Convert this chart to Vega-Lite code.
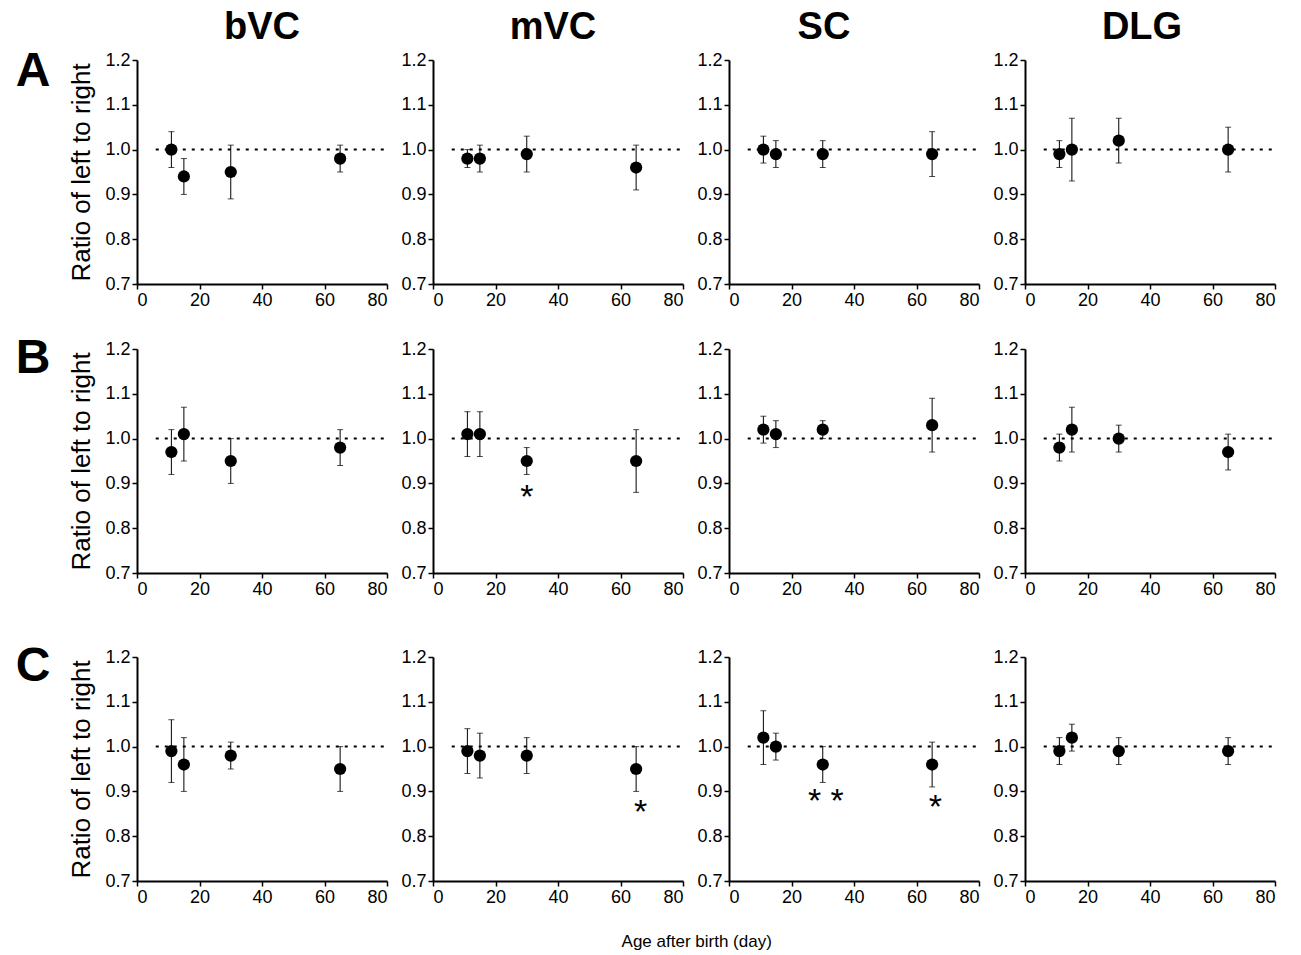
{
  "$schema": "https://vega.github.io/schema/vega-lite/v6.json",
  "background": "white",
  "padding": {"left": 15, "top": 9, "right": 5, "bottom": 0},
  "title": {"text": "Age after birth  (day)", "orient": "bottom", "anchor": "middle", "fontSize": 17, "fontWeight": "normal", "offset": 28, "dx": 51, "color": "black", "font": "Liberation Sans"},
  "config": {
    "view": {"stroke": null},
    "font": "Liberation Sans",
    "title": {"fontSize": 38, "fontWeight": "bold", "color": "black", "font": "Liberation Sans", "offset": 4},
    "axis": {"domainColor": "black", "domainWidth": 2, "tickColor": "black", "tickWidth": 1.5, "tickSize": 5, "labelColor": "black", "labelFontSize": 18, "labelFont": "Liberation Sans", "grid": false, "titleFontSize": 26, "titleFontWeight": "normal", "titleColor": "black", "titleFont": "Liberation Sans", "labelPadding": 2, "titlePadding": 10}
  },
  "datasets": {
    "d": [
      {"g": "A-bVC", "age": 11, "ratio": 1.00, "lo": 0.96, "hi": 1.04},
      {"g": "A-bVC", "age": 15, "ratio": 0.94, "lo": 0.90, "hi": 0.98},
      {"g": "A-bVC", "age": 30, "ratio": 0.95, "lo": 0.89, "hi": 1.01},
      {"g": "A-bVC", "age": 65, "ratio": 0.98, "lo": 0.95, "hi": 1.01},
      {"g": "A-mVC", "age": 11, "ratio": 0.98, "lo": 0.96, "hi": 1.00},
      {"g": "A-mVC", "age": 15, "ratio": 0.98, "lo": 0.95, "hi": 1.01},
      {"g": "A-mVC", "age": 30, "ratio": 0.99, "lo": 0.95, "hi": 1.03},
      {"g": "A-mVC", "age": 65, "ratio": 0.96, "lo": 0.91, "hi": 1.01},
      {"g": "A-SC", "age": 11, "ratio": 1.00, "lo": 0.97, "hi": 1.03},
      {"g": "A-SC", "age": 15, "ratio": 0.99, "lo": 0.96, "hi": 1.02},
      {"g": "A-SC", "age": 30, "ratio": 0.99, "lo": 0.96, "hi": 1.02},
      {"g": "A-SC", "age": 65, "ratio": 0.99, "lo": 0.94, "hi": 1.04},
      {"g": "A-DLG", "age": 11, "ratio": 0.99, "lo": 0.96, "hi": 1.02},
      {"g": "A-DLG", "age": 15, "ratio": 1.00, "lo": 0.93, "hi": 1.07},
      {"g": "A-DLG", "age": 30, "ratio": 1.02, "lo": 0.97, "hi": 1.07},
      {"g": "A-DLG", "age": 65, "ratio": 1.00, "lo": 0.95, "hi": 1.05},
      {"g": "B-bVC", "age": 11, "ratio": 0.97, "lo": 0.92, "hi": 1.02},
      {"g": "B-bVC", "age": 15, "ratio": 1.01, "lo": 0.95, "hi": 1.07},
      {"g": "B-bVC", "age": 30, "ratio": 0.95, "lo": 0.90, "hi": 1.00},
      {"g": "B-bVC", "age": 65, "ratio": 0.98, "lo": 0.94, "hi": 1.02},
      {"g": "B-mVC", "age": 11, "ratio": 1.01, "lo": 0.96, "hi": 1.06},
      {"g": "B-mVC", "age": 15, "ratio": 1.01, "lo": 0.96, "hi": 1.06},
      {"g": "B-mVC", "age": 30, "ratio": 0.95, "lo": 0.92, "hi": 0.98, "star": "*", "sx": 30, "sy": 0.885},
      {"g": "B-mVC", "age": 65, "ratio": 0.95, "lo": 0.88, "hi": 1.02},
      {"g": "B-SC", "age": 11, "ratio": 1.02, "lo": 0.99, "hi": 1.05},
      {"g": "B-SC", "age": 15, "ratio": 1.01, "lo": 0.98, "hi": 1.04},
      {"g": "B-SC", "age": 30, "ratio": 1.02, "lo": 1.00, "hi": 1.04},
      {"g": "B-SC", "age": 65, "ratio": 1.03, "lo": 0.97, "hi": 1.09},
      {"g": "B-DLG", "age": 11, "ratio": 0.98, "lo": 0.95, "hi": 1.01},
      {"g": "B-DLG", "age": 15, "ratio": 1.02, "lo": 0.97, "hi": 1.07},
      {"g": "B-DLG", "age": 30, "ratio": 1.00, "lo": 0.97, "hi": 1.03},
      {"g": "B-DLG", "age": 65, "ratio": 0.97, "lo": 0.93, "hi": 1.01},
      {"g": "C-bVC", "age": 11, "ratio": 0.99, "lo": 0.92, "hi": 1.06},
      {"g": "C-bVC", "age": 15, "ratio": 0.96, "lo": 0.90, "hi": 1.02},
      {"g": "C-bVC", "age": 30, "ratio": 0.98, "lo": 0.95, "hi": 1.01},
      {"g": "C-bVC", "age": 65, "ratio": 0.95, "lo": 0.90, "hi": 1.00},
      {"g": "C-mVC", "age": 11, "ratio": 0.99, "lo": 0.94, "hi": 1.04},
      {"g": "C-mVC", "age": 15, "ratio": 0.98, "lo": 0.93, "hi": 1.03},
      {"g": "C-mVC", "age": 30, "ratio": 0.98, "lo": 0.94, "hi": 1.02},
      {"g": "C-mVC", "age": 65, "ratio": 0.95, "lo": 0.90, "hi": 1.00, "star": "*", "sx": 66.4, "sy": 0.87},
      {"g": "C-SC", "age": 11, "ratio": 1.02, "lo": 0.96, "hi": 1.08},
      {"g": "C-SC", "age": 15, "ratio": 1.00, "lo": 0.97, "hi": 1.03},
      {"g": "C-SC", "age": 30, "ratio": 0.96, "lo": 0.92, "hi": 1.00, "star": "* *", "sx": 31, "sy": 0.895},
      {"g": "C-SC", "age": 65, "ratio": 0.96, "lo": 0.91, "hi": 1.01, "star": "*", "sx": 66, "sy": 0.88},
      {"g": "C-DLG", "age": 11, "ratio": 0.99, "lo": 0.96, "hi": 1.02},
      {"g": "C-DLG", "age": 15, "ratio": 1.02, "lo": 0.99, "hi": 1.05},
      {"g": "C-DLG", "age": 30, "ratio": 0.99, "lo": 0.96, "hi": 1.02},
      {"g": "C-DLG", "age": 65, "ratio": 0.99, "lo": 0.96, "hi": 1.02}
    ]
  },
  "spacing": 45,
  "vconcat": [
    {
      "spacing": 26,
      "vconcat": [
        {
          "spacing": 46,
          "bounds": "flush",
          "title": {"text": "A", "orient": "left", "angle": 0, "anchor": "end", "align": "right", "baseline": "top", "fontSize": 48, "fontWeight": "bold", "offset": -16, "dy": 39},
          "hconcat": [
            {"width": 250, "height": 224, "title": {"text": "bVC", "dx": 0}, "data": {"name": "d"}, "transform": [{"filter": "datum.g == 'A-bVC'"}],
              "layer": [
                {"data": {"values": [{}]}, "mark": {"type": "rule", "strokeDash": [3, 6], "strokeWidth": 2, "color": "black"}, "encoding": {"x": {"datum": 6, "type": "quantitative"}, "x2": {"datum": 79}, "y": {"datum": 1, "type": "quantitative"}}},
                {"mark": {"type": "errorbar", "color": "black", "ticks": {"size": 6}, "rule": {"strokeWidth": 1}}, "encoding": {"x": {"field": "age", "type": "quantitative", "title": null}, "y": {"field": "lo", "type": "quantitative", "title": "Ratio of left to right"}, "y2": {"field": "hi"}}},
                {"mark": {"type": "circle", "size": 150, "color": "black", "opacity": 1}, "encoding": {"x": {"field": "age", "type": "quantitative", "scale": {"domain": [0, 80], "nice": false}, "title": null, "axis": {"values": [0, 10, 20, 30, 40, 50, 60, 70, 80], "labelExpr": "datum.value % 20 == 0 ? datum.label : ''"}}, "y": {"field": "ratio", "type": "quantitative", "scale": {"domain": [0.7, 1.2], "nice": false, "zero": false}, "title": "Ratio of left to right", "axis": {"values": [0.7, 0.8, 0.9, 1.0, 1.1, 1.2], "format": ".1f"}}}},
                {"transform": [{"filter": "datum.star"}], "mark": {"type": "text", "fontSize": 34, "baseline": "middle", "dy": 8, "color": "black"}, "encoding": {"x": {"field": "sx", "type": "quantitative", "title": null}, "y": {"field": "sy", "type": "quantitative", "title": "Ratio of left to right"}, "text": {"field": "star"}}}
              ]
            },
            {"width": 250, "height": 224, "title": {"text": "mVC", "dx": -5}, "data": {"name": "d"}, "transform": [{"filter": "datum.g == 'A-mVC'"}],
              "layer": [
                {"data": {"values": [{}]}, "mark": {"type": "rule", "strokeDash": [3, 6], "strokeWidth": 2, "color": "black"}, "encoding": {"x": {"datum": 6, "type": "quantitative"}, "x2": {"datum": 79}, "y": {"datum": 1, "type": "quantitative"}}},
                {"mark": {"type": "errorbar", "color": "black", "ticks": {"size": 6}, "rule": {"strokeWidth": 1}}, "encoding": {"x": {"field": "age", "type": "quantitative", "title": null}, "y": {"field": "lo", "type": "quantitative", "title": null}, "y2": {"field": "hi"}}},
                {"mark": {"type": "circle", "size": 150, "color": "black", "opacity": 1}, "encoding": {"x": {"field": "age", "type": "quantitative", "scale": {"domain": [0, 80], "nice": false}, "title": null, "axis": {"values": [0, 10, 20, 30, 40, 50, 60, 70, 80], "labelExpr": "datum.value % 20 == 0 ? datum.label : ''"}}, "y": {"field": "ratio", "type": "quantitative", "scale": {"domain": [0.7, 1.2], "nice": false, "zero": false}, "title": null, "axis": {"values": [0.7, 0.8, 0.9, 1.0, 1.1, 1.2], "format": ".1f"}}}},
                {"transform": [{"filter": "datum.star"}], "mark": {"type": "text", "fontSize": 34, "baseline": "middle", "dy": 8, "color": "black"}, "encoding": {"x": {"field": "sx", "type": "quantitative", "title": null}, "y": {"field": "sy", "type": "quantitative", "title": null}, "text": {"field": "star"}}}
              ]
            },
            {"width": 250, "height": 224, "title": {"text": "SC", "dx": -30}, "data": {"name": "d"}, "transform": [{"filter": "datum.g == 'A-SC'"}],
              "layer": [
                {"data": {"values": [{}]}, "mark": {"type": "rule", "strokeDash": [3, 6], "strokeWidth": 2, "color": "black"}, "encoding": {"x": {"datum": 6, "type": "quantitative"}, "x2": {"datum": 79}, "y": {"datum": 1, "type": "quantitative"}}},
                {"mark": {"type": "errorbar", "color": "black", "ticks": {"size": 6}, "rule": {"strokeWidth": 1}}, "encoding": {"x": {"field": "age", "type": "quantitative", "title": null}, "y": {"field": "lo", "type": "quantitative", "title": null}, "y2": {"field": "hi"}}},
                {"mark": {"type": "circle", "size": 150, "color": "black", "opacity": 1}, "encoding": {"x": {"field": "age", "type": "quantitative", "scale": {"domain": [0, 80], "nice": false}, "title": null, "axis": {"values": [0, 10, 20, 30, 40, 50, 60, 70, 80], "labelExpr": "datum.value % 20 == 0 ? datum.label : ''"}}, "y": {"field": "ratio", "type": "quantitative", "scale": {"domain": [0.7, 1.2], "nice": false, "zero": false}, "title": null, "axis": {"values": [0.7, 0.8, 0.9, 1.0, 1.1, 1.2], "format": ".1f"}}}},
                {"transform": [{"filter": "datum.star"}], "mark": {"type": "text", "fontSize": 34, "baseline": "middle", "dy": 8, "color": "black"}, "encoding": {"x": {"field": "sx", "type": "quantitative", "title": null}, "y": {"field": "sy", "type": "quantitative", "title": null}, "text": {"field": "star"}}}
              ]
            },
            {"width": 250, "height": 224, "title": {"text": "DLG", "dx": -8}, "data": {"name": "d"}, "transform": [{"filter": "datum.g == 'A-DLG'"}],
              "layer": [
                {"data": {"values": [{}]}, "mark": {"type": "rule", "strokeDash": [3, 6], "strokeWidth": 2, "color": "black"}, "encoding": {"x": {"datum": 6, "type": "quantitative"}, "x2": {"datum": 79}, "y": {"datum": 1, "type": "quantitative"}}},
                {"mark": {"type": "errorbar", "color": "black", "ticks": {"size": 6}, "rule": {"strokeWidth": 1}}, "encoding": {"x": {"field": "age", "type": "quantitative", "title": null}, "y": {"field": "lo", "type": "quantitative", "title": null}, "y2": {"field": "hi"}}},
                {"mark": {"type": "circle", "size": 150, "color": "black", "opacity": 1}, "encoding": {"x": {"field": "age", "type": "quantitative", "scale": {"domain": [0, 80], "nice": false}, "title": null, "axis": {"values": [0, 10, 20, 30, 40, 50, 60, 70, 80], "labelExpr": "datum.value % 20 == 0 ? datum.label : ''"}}, "y": {"field": "ratio", "type": "quantitative", "scale": {"domain": [0.7, 1.2], "nice": false, "zero": false}, "title": null, "axis": {"values": [0.7, 0.8, 0.9, 1.0, 1.1, 1.2], "format": ".1f"}}}},
                {"transform": [{"filter": "datum.star"}], "mark": {"type": "text", "fontSize": 34, "baseline": "middle", "dy": 8, "color": "black"}, "encoding": {"x": {"field": "sx", "type": "quantitative", "title": null}, "y": {"field": "sy", "type": "quantitative", "title": null}, "text": {"field": "star"}}}
              ]
            }
          ]
        },
        {
          "spacing": 46,
          "bounds": "flush",
          "title": {"text": "B", "orient": "left", "angle": 0, "anchor": "end", "align": "right", "baseline": "top", "fontSize": 48, "fontWeight": "bold", "offset": -16, "dy": -5},
          "hconcat": [
            {"width": 250, "height": 224, "data": {"name": "d"}, "transform": [{"filter": "datum.g == 'B-bVC'"}],
              "layer": [
                {"data": {"values": [{}]}, "mark": {"type": "rule", "strokeDash": [3, 6], "strokeWidth": 2, "color": "black"}, "encoding": {"x": {"datum": 6, "type": "quantitative"}, "x2": {"datum": 79}, "y": {"datum": 1, "type": "quantitative"}}},
                {"mark": {"type": "errorbar", "color": "black", "ticks": {"size": 6}, "rule": {"strokeWidth": 1}}, "encoding": {"x": {"field": "age", "type": "quantitative", "title": null}, "y": {"field": "lo", "type": "quantitative", "title": "Ratio of left to right"}, "y2": {"field": "hi"}}},
                {"mark": {"type": "circle", "size": 150, "color": "black", "opacity": 1}, "encoding": {"x": {"field": "age", "type": "quantitative", "scale": {"domain": [0, 80], "nice": false}, "title": null, "axis": {"values": [0, 10, 20, 30, 40, 50, 60, 70, 80], "labelExpr": "datum.value % 20 == 0 ? datum.label : ''"}}, "y": {"field": "ratio", "type": "quantitative", "scale": {"domain": [0.7, 1.2], "nice": false, "zero": false}, "title": "Ratio of left to right", "axis": {"values": [0.7, 0.8, 0.9, 1.0, 1.1, 1.2], "format": ".1f"}}}},
                {"transform": [{"filter": "datum.star"}], "mark": {"type": "text", "fontSize": 34, "baseline": "middle", "dy": 8, "color": "black"}, "encoding": {"x": {"field": "sx", "type": "quantitative", "title": null}, "y": {"field": "sy", "type": "quantitative", "title": "Ratio of left to right"}, "text": {"field": "star"}}}
              ]
            },
            {"width": 250, "height": 224, "data": {"name": "d"}, "transform": [{"filter": "datum.g == 'B-mVC'"}],
              "layer": [
                {"data": {"values": [{}]}, "mark": {"type": "rule", "strokeDash": [3, 6], "strokeWidth": 2, "color": "black"}, "encoding": {"x": {"datum": 6, "type": "quantitative"}, "x2": {"datum": 79}, "y": {"datum": 1, "type": "quantitative"}}},
                {"mark": {"type": "errorbar", "color": "black", "ticks": {"size": 6}, "rule": {"strokeWidth": 1}}, "encoding": {"x": {"field": "age", "type": "quantitative", "title": null}, "y": {"field": "lo", "type": "quantitative", "title": null}, "y2": {"field": "hi"}}},
                {"mark": {"type": "circle", "size": 150, "color": "black", "opacity": 1}, "encoding": {"x": {"field": "age", "type": "quantitative", "scale": {"domain": [0, 80], "nice": false}, "title": null, "axis": {"values": [0, 10, 20, 30, 40, 50, 60, 70, 80], "labelExpr": "datum.value % 20 == 0 ? datum.label : ''"}}, "y": {"field": "ratio", "type": "quantitative", "scale": {"domain": [0.7, 1.2], "nice": false, "zero": false}, "title": null, "axis": {"values": [0.7, 0.8, 0.9, 1.0, 1.1, 1.2], "format": ".1f"}}}},
                {"transform": [{"filter": "datum.star"}], "mark": {"type": "text", "fontSize": 34, "baseline": "middle", "dy": 8, "color": "black"}, "encoding": {"x": {"field": "sx", "type": "quantitative", "title": null}, "y": {"field": "sy", "type": "quantitative", "title": null}, "text": {"field": "star"}}}
              ]
            },
            {"width": 250, "height": 224, "data": {"name": "d"}, "transform": [{"filter": "datum.g == 'B-SC'"}],
              "layer": [
                {"data": {"values": [{}]}, "mark": {"type": "rule", "strokeDash": [3, 6], "strokeWidth": 2, "color": "black"}, "encoding": {"x": {"datum": 6, "type": "quantitative"}, "x2": {"datum": 79}, "y": {"datum": 1, "type": "quantitative"}}},
                {"mark": {"type": "errorbar", "color": "black", "ticks": {"size": 6}, "rule": {"strokeWidth": 1}}, "encoding": {"x": {"field": "age", "type": "quantitative", "title": null}, "y": {"field": "lo", "type": "quantitative", "title": null}, "y2": {"field": "hi"}}},
                {"mark": {"type": "circle", "size": 150, "color": "black", "opacity": 1}, "encoding": {"x": {"field": "age", "type": "quantitative", "scale": {"domain": [0, 80], "nice": false}, "title": null, "axis": {"values": [0, 10, 20, 30, 40, 50, 60, 70, 80], "labelExpr": "datum.value % 20 == 0 ? datum.label : ''"}}, "y": {"field": "ratio", "type": "quantitative", "scale": {"domain": [0.7, 1.2], "nice": false, "zero": false}, "title": null, "axis": {"values": [0.7, 0.8, 0.9, 1.0, 1.1, 1.2], "format": ".1f"}}}},
                {"transform": [{"filter": "datum.star"}], "mark": {"type": "text", "fontSize": 34, "baseline": "middle", "dy": 8, "color": "black"}, "encoding": {"x": {"field": "sx", "type": "quantitative", "title": null}, "y": {"field": "sy", "type": "quantitative", "title": null}, "text": {"field": "star"}}}
              ]
            },
            {"width": 250, "height": 224, "data": {"name": "d"}, "transform": [{"filter": "datum.g == 'B-DLG'"}],
              "layer": [
                {"data": {"values": [{}]}, "mark": {"type": "rule", "strokeDash": [3, 6], "strokeWidth": 2, "color": "black"}, "encoding": {"x": {"datum": 6, "type": "quantitative"}, "x2": {"datum": 79}, "y": {"datum": 1, "type": "quantitative"}}},
                {"mark": {"type": "errorbar", "color": "black", "ticks": {"size": 6}, "rule": {"strokeWidth": 1}}, "encoding": {"x": {"field": "age", "type": "quantitative", "title": null}, "y": {"field": "lo", "type": "quantitative", "title": null}, "y2": {"field": "hi"}}},
                {"mark": {"type": "circle", "size": 150, "color": "black", "opacity": 1}, "encoding": {"x": {"field": "age", "type": "quantitative", "scale": {"domain": [0, 80], "nice": false}, "title": null, "axis": {"values": [0, 10, 20, 30, 40, 50, 60, 70, 80], "labelExpr": "datum.value % 20 == 0 ? datum.label : ''"}}, "y": {"field": "ratio", "type": "quantitative", "scale": {"domain": [0.7, 1.2], "nice": false, "zero": false}, "title": null, "axis": {"values": [0.7, 0.8, 0.9, 1.0, 1.1, 1.2], "format": ".1f"}}}},
                {"transform": [{"filter": "datum.star"}], "mark": {"type": "text", "fontSize": 34, "baseline": "middle", "dy": 8, "color": "black"}, "encoding": {"x": {"field": "sx", "type": "quantitative", "title": null}, "y": {"field": "sy", "type": "quantitative", "title": null}, "text": {"field": "star"}}}
              ]
            }
          ]
        }
      ]
    },
    {
      "spacing": 46,
      "bounds": "flush",
      "title": {"text": "C", "orient": "left", "angle": 0, "anchor": "end", "align": "right", "baseline": "top", "fontSize": 48, "fontWeight": "bold", "offset": -16, "dy": -5},
      "hconcat": [
        {"width": 250, "height": 224, "data": {"name": "d"}, "transform": [{"filter": "datum.g == 'C-bVC'"}],
          "layer": [
            {"data": {"values": [{}]}, "mark": {"type": "rule", "strokeDash": [3, 6], "strokeWidth": 2, "color": "black"}, "encoding": {"x": {"datum": 6, "type": "quantitative"}, "x2": {"datum": 79}, "y": {"datum": 1, "type": "quantitative"}}},
            {"mark": {"type": "errorbar", "color": "black", "ticks": {"size": 6}, "rule": {"strokeWidth": 1}}, "encoding": {"x": {"field": "age", "type": "quantitative", "title": null}, "y": {"field": "lo", "type": "quantitative", "title": "Ratio of left to right"}, "y2": {"field": "hi"}}},
            {"mark": {"type": "circle", "size": 150, "color": "black", "opacity": 1}, "encoding": {"x": {"field": "age", "type": "quantitative", "scale": {"domain": [0, 80], "nice": false}, "title": null, "axis": {"values": [0, 10, 20, 30, 40, 50, 60, 70, 80], "labelExpr": "datum.value % 20 == 0 ? datum.label : ''"}}, "y": {"field": "ratio", "type": "quantitative", "scale": {"domain": [0.7, 1.2], "nice": false, "zero": false}, "title": "Ratio of left to right", "axis": {"values": [0.7, 0.8, 0.9, 1.0, 1.1, 1.2], "format": ".1f"}}}},
            {"transform": [{"filter": "datum.star"}], "mark": {"type": "text", "fontSize": 34, "baseline": "middle", "dy": 8, "color": "black"}, "encoding": {"x": {"field": "sx", "type": "quantitative", "title": null}, "y": {"field": "sy", "type": "quantitative", "title": "Ratio of left to right"}, "text": {"field": "star"}}}
          ]
        },
        {"width": 250, "height": 224, "data": {"name": "d"}, "transform": [{"filter": "datum.g == 'C-mVC'"}],
          "layer": [
            {"data": {"values": [{}]}, "mark": {"type": "rule", "strokeDash": [3, 6], "strokeWidth": 2, "color": "black"}, "encoding": {"x": {"datum": 6, "type": "quantitative"}, "x2": {"datum": 79}, "y": {"datum": 1, "type": "quantitative"}}},
            {"mark": {"type": "errorbar", "color": "black", "ticks": {"size": 6}, "rule": {"strokeWidth": 1}}, "encoding": {"x": {"field": "age", "type": "quantitative", "title": null}, "y": {"field": "lo", "type": "quantitative", "title": null}, "y2": {"field": "hi"}}},
            {"mark": {"type": "circle", "size": 150, "color": "black", "opacity": 1}, "encoding": {"x": {"field": "age", "type": "quantitative", "scale": {"domain": [0, 80], "nice": false}, "title": null, "axis": {"values": [0, 10, 20, 30, 40, 50, 60, 70, 80], "labelExpr": "datum.value % 20 == 0 ? datum.label : ''"}}, "y": {"field": "ratio", "type": "quantitative", "scale": {"domain": [0.7, 1.2], "nice": false, "zero": false}, "title": null, "axis": {"values": [0.7, 0.8, 0.9, 1.0, 1.1, 1.2], "format": ".1f"}}}},
            {"transform": [{"filter": "datum.star"}], "mark": {"type": "text", "fontSize": 34, "baseline": "middle", "dy": 8, "color": "black"}, "encoding": {"x": {"field": "sx", "type": "quantitative", "title": null}, "y": {"field": "sy", "type": "quantitative", "title": null}, "text": {"field": "star"}}}
          ]
        },
        {"width": 250, "height": 224, "data": {"name": "d"}, "transform": [{"filter": "datum.g == 'C-SC'"}],
          "layer": [
            {"data": {"values": [{}]}, "mark": {"type": "rule", "strokeDash": [3, 6], "strokeWidth": 2, "color": "black"}, "encoding": {"x": {"datum": 6, "type": "quantitative"}, "x2": {"datum": 79}, "y": {"datum": 1, "type": "quantitative"}}},
            {"mark": {"type": "errorbar", "color": "black", "ticks": {"size": 6}, "rule": {"strokeWidth": 1}}, "encoding": {"x": {"field": "age", "type": "quantitative", "title": null}, "y": {"field": "lo", "type": "quantitative", "title": null}, "y2": {"field": "hi"}}},
            {"mark": {"type": "circle", "size": 150, "color": "black", "opacity": 1}, "encoding": {"x": {"field": "age", "type": "quantitative", "scale": {"domain": [0, 80], "nice": false}, "title": null, "axis": {"values": [0, 10, 20, 30, 40, 50, 60, 70, 80], "labelExpr": "datum.value % 20 == 0 ? datum.label : ''"}}, "y": {"field": "ratio", "type": "quantitative", "scale": {"domain": [0.7, 1.2], "nice": false, "zero": false}, "title": null, "axis": {"values": [0.7, 0.8, 0.9, 1.0, 1.1, 1.2], "format": ".1f"}}}},
            {"transform": [{"filter": "datum.star"}], "mark": {"type": "text", "fontSize": 34, "baseline": "middle", "dy": 8, "color": "black"}, "encoding": {"x": {"field": "sx", "type": "quantitative", "title": null}, "y": {"field": "sy", "type": "quantitative", "title": null}, "text": {"field": "star"}}}
          ]
        },
        {"width": 250, "height": 224, "data": {"name": "d"}, "transform": [{"filter": "datum.g == 'C-DLG'"}],
          "layer": [
            {"data": {"values": [{}]}, "mark": {"type": "rule", "strokeDash": [3, 6], "strokeWidth": 2, "color": "black"}, "encoding": {"x": {"datum": 6, "type": "quantitative"}, "x2": {"datum": 79}, "y": {"datum": 1, "type": "quantitative"}}},
            {"mark": {"type": "errorbar", "color": "black", "ticks": {"size": 6}, "rule": {"strokeWidth": 1}}, "encoding": {"x": {"field": "age", "type": "quantitative", "title": null}, "y": {"field": "lo", "type": "quantitative", "title": null}, "y2": {"field": "hi"}}},
            {"mark": {"type": "circle", "size": 150, "color": "black", "opacity": 1}, "encoding": {"x": {"field": "age", "type": "quantitative", "scale": {"domain": [0, 80], "nice": false}, "title": null, "axis": {"values": [0, 10, 20, 30, 40, 50, 60, 70, 80], "labelExpr": "datum.value % 20 == 0 ? datum.label : ''"}}, "y": {"field": "ratio", "type": "quantitative", "scale": {"domain": [0.7, 1.2], "nice": false, "zero": false}, "title": null, "axis": {"values": [0.7, 0.8, 0.9, 1.0, 1.1, 1.2], "format": ".1f"}}}},
            {"transform": [{"filter": "datum.star"}], "mark": {"type": "text", "fontSize": 34, "baseline": "middle", "dy": 8, "color": "black"}, "encoding": {"x": {"field": "sx", "type": "quantitative", "title": null}, "y": {"field": "sy", "type": "quantitative", "title": null}, "text": {"field": "star"}}}
          ]
        }
      ]
    }
  ]
}
